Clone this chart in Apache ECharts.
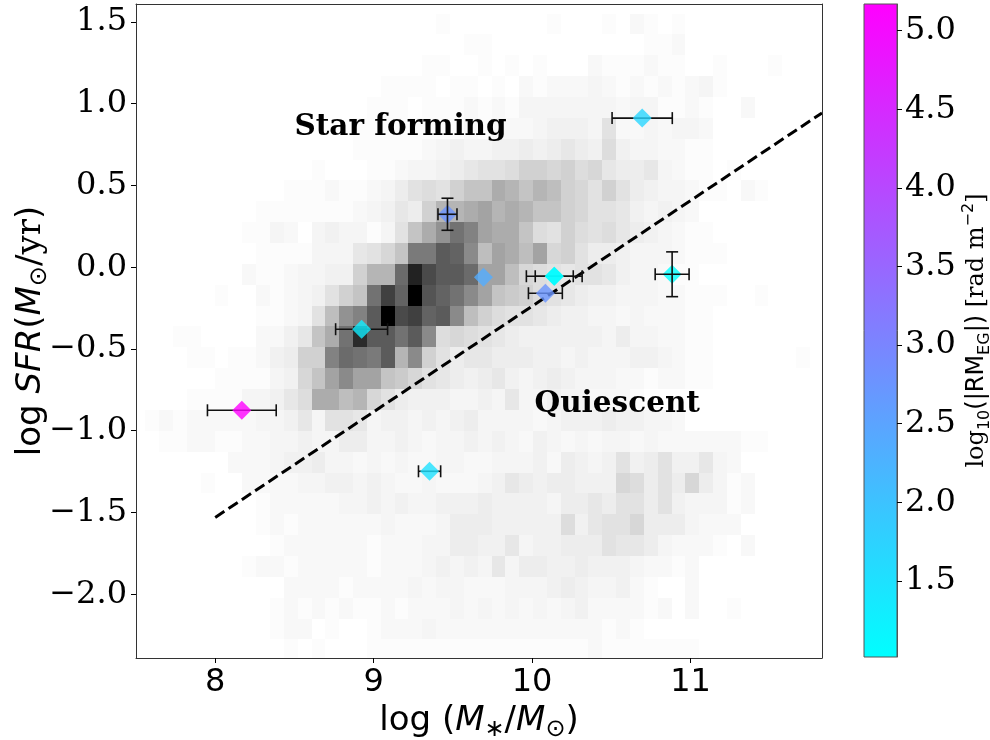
<!DOCTYPE html>
<html>
<head>
<meta charset="utf-8">
<script src="https://cdn.jsdelivr.net/npm/echarts@6.0.0/dist/echarts.min.js"></script>
<style>html,body{margin:0;padding:0;background:#fff;}#chart{width:990px;height:740px;}</style>
</head>
<body>
<div id="chart"></div>
<script>
// ---------- axes ----------
const X_MIN = 7.5, X_MAX = 11.83;
const Y_MIN = -2.39, Y_MAX = 1.61;
const xTicks = [8, 9, 10, 11];
const yTicks = [-2.0, -1.5, -1.0, -0.5, 0.0, 0.5, 1.0, 1.5];
const cbTicks = [1.5, 2.0, 2.5, 3.0, 3.5, 4.0, 4.5, 5.0];
const CB_MIN = 1.016, CB_MAX = 5.17;

// ---------- background 2D histogram (counts, base-36 per cell, rows bottom -> top) ----------
const histXEdge0 = 7.559, histXBin = 0.0874;
const histYEdge0 = -2.404, histYBin = 0.1276;
const histCountMax = 35;
const histRows = [
  "0000000000 1010001111 1111111111 1121111111 000000000",
  "0000000001 2201001222 3222222222 2221210000 000000000",
  "0000000001 2121211212 2232323232 3422221202 001000000",
  "0000000000 2222122223 2332223334 5433421002 000000000",
  "0000000122 1222221222 3434363554 4544432212 000000000",
  "0000000001 2222221222 3355446344 5557665322 210200000",
  "0000000012 1222222322 2355544444 8467795553 222000000",
  "0000000012 2222334343 3444544443 5565775743 331200000",
  "0000100222 2334434322 3222346545 5444985759 531200000",
  "0000002223 4453323232 2332233342 5434745744 632000000",
  "0112211223 3433553343 2334343243 2323323222 222110000",
  "1212222233 4637763443 4345333323 4445443320 000000000",
  "0001111334 68ffde9754 4433436334 3322210000 000000000",
  "0000011113 49cgjggcb9 7654564345 4333221221 100000000",
  "0001101124 5aaknmlpej a756655544 3433344321 100000010",
  "0011000022 46cfmuppmp j898765444 4443533221 100000000",
  "0000000011 237dikpzrs opjda87765 4433232221 100000000",
  "0000010021 2347acmsoz qomjgcba87 6544333221 110010000",
  "0000000211 23344aeenv rppnggd987 6776433211 000000000",
  "0000000011 11333679cl lpojdgfdg9 a755433321 110000000",
  "0000000113 203433137c fimkgffc87 a878654321 100000000",
  "0000000011 1111123465 aeefgefecc a977643432 000000000",
  "0000000000 1112112357 87accfeced a97a754332 110210000",
  "0000000000 0010001123 3456778aa9 a896556321 101000000",
  "0000000000 0000011111 2343344545 6548433221 100000000",
  "0000000000 0000011111 1112122234 4437223233 200000000",
  "0000000000 0000001110 1112121333 3333233112 100200000",
  "0000000000 0000000111 1011010212 2232121212 310000000",
  "0000000000 0000000000 1100101010 0021112110 010001000",
  "0000000000 0000000000 0001100000 0000001120 000000000",
  "0000000000 0000000000 0100000001 0001021010 000000000",
  "0000000000 0000000000 0000000000 0000000000 000000000"
];

// ---------- galaxies ----------
const galMass    = [8.168, 8.924, 9.466, 9.693, 10.140, 10.140, 10.084, 10.695, 10.884, 9.353];
const galSfr     = [-0.875, -0.379, 0.324, -0.061, -0.055, -0.055, -0.159, 0.912, -0.043, -1.248];
const galMassErr = [0.217, 0.164, 0.060, 0.0, 0.176, 0.120, 0.107, 0.190, 0.107, 0.070];
const galSfrErr  = [0.0, 0.0, 0.098, 0.0, 0.0, 0.0, 0.0, 0.0, 0.137, 0.0];
const galLogRM   = [5.17, 1.30, 2.76, 2.35, 1.10, 1.05, 2.75, 1.68, 1.02, 1.50];
const galErrOnTop = [0, 0, 1, 0, 0, 0, 0, 0, 1, 0];

// ---------- dividing line ----------
const lineMass = [8.0, 11.83];
const lineSfr  = [-1.53, 0.944];

// ---------- annotations ----------
const labelText = ['Star forming', 'Quiescent'];
const labelMass = [8.50, 10.015];
const labelSfr  = [0.857, -0.838];

// ---------- build ----------
const GREYS = [255, 240, 217, 189, 150, 115, 82, 37, 0];
function greys(t) {
  t = Math.max(0, Math.min(1, t));
  const p = t * 8, i = Math.min(7, Math.floor(p)), f = p - i;
  const g = Math.round(GREYS[i] + (GREYS[i + 1] - GREYS[i]) * f);
  return 'rgb(' + g + ',' + g + ',' + g + ')';
}
const cells = [];
histRows.forEach((row, r) => {
  const s = row.replace(/ /g, '');
  for (let c = 0; c < s.length; c++) {
    const n = parseInt(s[c], 36);
    if (n > 0) cells.push([histXEdge0 + c * histXBin, histYEdge0 + r * histYBin, n]);
  }
});
const galData = galMass.map((m, i) => [m, galSfr[i], galLogRM[i]]);
const errUnder = [], errOver = [];
galMass.forEach((m, i) => {
  (galErrOnTop[i] ? errOver : errUnder).push([m, galSfr[i], galMassErr[i], galSfrErr[i]]);
});
const lineData = lineMass.map((m, i) => [m, lineSfr[i]]);
const textData = labelText.map((t, i) => [labelMass[i], labelSfr[i], t]);

function fmtY(v) { return (v < 0 ? '\u2212' : '') + Math.abs(v).toFixed(1); }

function renderErr(params, api) {
  const x = api.value(0), y = api.value(1), xe = api.value(2), ye = api.value(3);
  const ch = [], cap = 6;
  const st = {stroke: '#111', lineWidth: 1.6};
  if (xe > 0) {
    const a = api.coord([x - xe, y]), b = api.coord([x + xe, y]);
    ch.push({type: 'line', shape: {x1: a[0], y1: a[1], x2: b[0], y2: b[1]}, style: st});
    ch.push({type: 'line', shape: {x1: a[0], y1: a[1] - cap, x2: a[0], y2: a[1] + cap}, style: st});
    ch.push({type: 'line', shape: {x1: b[0], y1: b[1] - cap, x2: b[0], y2: b[1] + cap}, style: st});
  }
  if (ye > 0) {
    const a = api.coord([x, y - ye]), b = api.coord([x, y + ye]);
    ch.push({type: 'line', shape: {x1: a[0], y1: a[1], x2: b[0], y2: b[1]}, style: st});
    ch.push({type: 'line', shape: {x1: a[0] - cap, y1: a[1], x2: a[0] + cap, y2: a[1]}, style: st});
    ch.push({type: 'line', shape: {x1: b[0] - cap, y1: b[1], x2: b[0] + cap, y2: b[1]}, style: st});
  }
  return {type: 'group', children: ch};
}

const chart = echarts.init(document.getElementById('chart'), null, {renderer: 'canvas'});
const tickFont = 'DejaVu Sans';
const serif = 'DejaVu Serif';

const option = {
  animation: false,
  grid: [
    {left: 136, top: 4, width: 686, height: 654, containLabel: false, outerBoundsMode: 'none'},
    {left: 864, top: 4, width: 33, height: 653, containLabel: false, outerBoundsMode: 'none'}
  ],
  xAxis: [
    {
      gridIndex: 0, type: 'value', min: X_MIN, max: X_MAX, z: 10,
      axisLine: {show: true, onZero: false, lineStyle: {color: '#333', width: 1}},
      axisTick: {show: true, customValues: xTicks, length: 5, lineStyle: {color: '#000', width: 1}},
      axisLabel: {customValues: xTicks, fontSize: 32, fontFamily: tickFont, color: '#000', margin: 9},
      splitLine: {show: false},
      name: '{n|log (}{i|M}{s|\u2217}{n|/}{i|M}{s|\u2299}{n|)}',
      nameLocation: 'middle', nameGap: 42,
      nameTextStyle: {
        color: '#000', fontSize: 34, fontFamily: tickFont,
        rich: {
          n: {fontSize: 34, fontFamily: tickFont, color: '#000', lineHeight: 42},
          i: {fontSize: 34, fontFamily: tickFont, fontStyle: 'italic', color: '#000', lineHeight: 42},
          s: {fontSize: 24, fontFamily: tickFont, color: '#000', verticalAlign: 'bottom', lineHeight: 24}
        }
      }
    },
    {
      gridIndex: 0, type: 'value', min: X_MIN, max: X_MAX, position: 'top', z: 10,
      axisLine: {show: true, onZero: false, lineStyle: {color: '#333', width: 1}},
      axisTick: {show: false}, axisLabel: {show: false}, splitLine: {show: false}
    },
    {
      gridIndex: 1, type: 'value', min: 0, max: 1, show: false
    }
  ],
  yAxis: [
    {
      gridIndex: 0, type: 'value', min: Y_MIN, max: Y_MAX, z: 10,
      axisLine: {show: true, onZero: false, lineStyle: {color: '#333', width: 1}},
      axisTick: {show: true, customValues: yTicks, length: 5, lineStyle: {color: '#000', width: 1}},
      axisLabel: {customValues: yTicks, formatter: fmtY, fontSize: 32, fontFamily: serif, color: '#000', margin: 9},
      splitLine: {show: false},
      name: '{n|log }{i|SFR}{n|(}{i|M}{s|\u2299}{r|/yr}{n|)}',
      nameLocation: 'middle', nameGap: 84, nameRotate: 90, nameMoveOverlap: false,
      nameTextStyle: {
        color: '#000', fontSize: 34, fontFamily: tickFont,
        rich: {
          n: {fontSize: 34, fontFamily: tickFont, color: '#000', lineHeight: 42},
          i: {fontSize: 34, fontFamily: tickFont, fontStyle: 'italic', color: '#000', lineHeight: 42},
          r: {fontSize: 34, fontFamily: serif, color: '#000', lineHeight: 42},
          s: {fontSize: 24, fontFamily: tickFont, color: '#000', verticalAlign: 'bottom', lineHeight: 24}
        }
      }
    },
    {
      gridIndex: 0, type: 'value', min: Y_MIN, max: Y_MAX, position: 'right', z: 10,
      axisLine: {show: true, onZero: false, lineStyle: {color: '#333', width: 1}},
      axisTick: {show: false}, axisLabel: {show: false}, splitLine: {show: false}
    },
    {
      gridIndex: 1, type: 'value', min: CB_MIN, max: CB_MAX, position: 'right', z: 10,
      axisLine: {show: true, onZero: false, lineStyle: {color: '#555', width: 1}},
      axisTick: {show: true, customValues: cbTicks, length: 5, lineStyle: {color: '#000', width: 1}},
      axisLabel: {customValues: cbTicks, formatter: v => v.toFixed(1), fontSize: 32, fontFamily: serif, color: '#000', margin: 8},
      splitLine: {show: false},
      name: '{n|log}{s|10}{m|(|RM}{s|EG}{m||) }{n|[rad m}{p|\u22122}{n|]}',
      nameLocation: 'middle', nameGap: 64, nameRotate: 90,
      nameTextStyle: {
        color: '#000', fontSize: 24, fontFamily: serif,
        rich: {
          n: {fontSize: 24, fontFamily: serif, color: '#000', lineHeight: 32},
          m: {fontSize: 24, fontFamily: tickFont, color: '#000', lineHeight: 32},
          s: {fontSize: 16, fontFamily: tickFont, color: '#000', verticalAlign: 'bottom', lineHeight: 16},
          p: {fontSize: 16, fontFamily: tickFont, color: '#000', verticalAlign: 'top', lineHeight: 16}
        }
      }
    }
  ],
  visualMap: [{
    show: false, type: 'continuous', min: CB_MIN, max: CB_MAX, dimension: 2, seriesIndex: 3,
    inRange: {color: ['#00ffff', '#ff00ff']}
  }],
  series: [
    {
      type: 'custom', xAxisIndex: 0, yAxisIndex: 0, data: cells, z: 1, silent: true, clip: true,
      renderItem: function (params, api) {
        const x0 = api.value(0), y0 = api.value(1);
        const p0 = api.coord([x0, y0 + histYBin]);
        const p1 = api.coord([x0 + histXBin, y0]);
        const cs = params.coordSys;
        const l = Math.max(Math.round(p0[0]), cs.x), r = Math.min(Math.round(p1[0]), cs.x + cs.width);
        const t = Math.max(Math.round(p0[1]), cs.y), b = Math.min(Math.round(p1[1]), cs.y + cs.height);
        if (r <= l || b <= t) return null;
        return {type: 'rect', shape: {x: l, y: t, width: r - l, height: b - t},
                style: {fill: greys(api.value(2) / histCountMax)}};
      }
    },
    {
      type: 'line', xAxisIndex: 0, yAxisIndex: 0, data: lineData, z: 3, silent: true,
      symbol: 'none', lineStyle: {color: '#000', width: 3, type: [11, 5]}
    },
    {
      type: 'custom', xAxisIndex: 0, yAxisIndex: 0, data: errUnder, z: 4, silent: true,
      renderItem: renderErr
    },
    {
      type: 'scatter', xAxisIndex: 0, yAxisIndex: 0, data: galData, z: 5, silent: true,
      symbol: 'diamond', symbolSize: 19
    },
    {
      type: 'custom', xAxisIndex: 0, yAxisIndex: 0, data: errOver, z: 6, silent: true,
      renderItem: renderErr
    },
    {
      type: 'scatter', xAxisIndex: 0, yAxisIndex: 0, data: textData, z: 7, silent: true,
      symbolSize: 0, itemStyle: {color: 'transparent'},
      label: {
        show: true, position: [0, 0], align: 'left', verticalAlign: 'middle',
        formatter: p => p.value[2], opacity: 1, textBorderWidth: 0,
        fontFamily: serif, fontWeight: 'bold', fontSize: 29.5, color: '#000000'
      }
    },
    {
      type: 'custom', xAxisIndex: 2, yAxisIndex: 2, data: [[0, CB_MIN, CB_MAX]], silent: true, z: 2,
      renderItem: function (params, api) {
        const a = api.coord([0, api.value(2)]), b = api.coord([1, api.value(1)]);
        return {type: 'rect', shape: {x: a[0], y: a[1], width: b[0] - a[0], height: b[1] - a[1]},
          style: {
            fill: new echarts.graphic.LinearGradient(0, 0, 0, 1, [
              {offset: 0, color: '#ff00ff'}, {offset: 1, color: '#00ffff'}
            ]),
            stroke: '#555', lineWidth: 1
          }};
      }
    }
  ]
};
chart.setOption(option);
</script>
</body>
</html>
